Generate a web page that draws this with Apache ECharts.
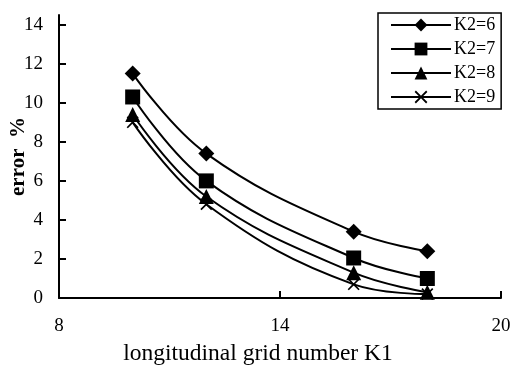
<!DOCTYPE html>
<html>
<head>
<meta charset="utf-8">
<script src="https://cdn.jsdelivr.net/npm/echarts@6/dist/echarts.min.js"></script>
<style>
  html, body {margin: 0; padding: 0; background: #fff;}
  #chart {width: 512px; height: 369px;}
</style>
</head>
<body>
<div id="chart"></div>
<script>
const k1 = [10, 12, 16, 18];
const k2Names = ['K2=6', 'K2=7', 'K2=8', 'K2=9'];
const k2_6 = [11.5, 7.4, 3.4, 2.4];
const k2_7 = [10.3, 6.0, 2.05, 1.0];
const k2_8 = [9.4, 5.2, 1.3, 0.3];
const k2_9 = [9.0, 4.8, 0.7, 0.2];

const font = 'Liberation Serif';
const cross = 'path://M0,1L1,0L5,4L9,0L10,1L6,5L10,9L9,10L5,6L1,10L0,9L4,5Z';
const symbols = ['diamond', 'rect', 'triangle', cross];
const sizes = [16, 15, 15, 12];

const pair = (vals) => vals.map((v, i) => [k1[i], v]);

const myChart = echarts.init(document.getElementById('chart'));
myChart.setOption({
  animation: false,
  textStyle: {fontFamily: font, color: '#000'},
  grid: {left: 59, right: 11, top: 15, bottom: 71, containLabel: false, outerBoundsMode: 'none'},
  legend: {
    orient: 'vertical',
    left: 378,
    top: 13,
    padding: [3, 6, 3, 12],
    borderColor: '#000',
    borderWidth: 1.5,
    itemWidth: 60,
    itemHeight: 16,
    itemGap: 6,
    textStyle: {fontFamily: font, fontSize: 18, color: '#000', padding: [0, 0, 0, -2]},
    data: k2Names
  },
  xAxis: {
    type: 'value',
    min: 8, max: 20, interval: 6,
    name: 'longitudinal grid number K1',
    nameLocation: 'middle',
    nameGap: 44,
    nameMoveOverlap: false,
    nameTextStyle: {fontFamily: font, fontSize: 23.5, color: '#000', padding: [0, 44, 0, 0]},
    splitLine: {show: false},
    axisLine: {lineStyle: {color: '#000', width: 2}},
    axisTick: {inside: true, length: 7, lineStyle: {color: '#000', width: 2}},
    axisLabel: {fontFamily: font, fontSize: 19, color: '#000', margin: 19}
  },
  yAxis: {
    type: 'value',
    min: 0, max: 14.5, interval: 2,
    name: 'error  %',
    nameLocation: 'middle',
    nameGap: 30,
    nameMoveOverlap: false,
    nameRotate: 90,
    nameTextStyle: {fontFamily: font, fontSize: 21, fontWeight: 'bold', color: '#000'},
    splitLine: {show: false},
    axisLine: {show: true, lineStyle: {color: '#000', width: 2}},
    axisTick: {show: true, inside: true, length: 7, lineStyle: {color: '#000', width: 2}},
    axisLabel: {fontFamily: font, fontSize: 19, color: '#000', margin: 16,
      showMaxLabel: false}
  },
  series: [k2_6, k2_7, k2_8, k2_9].map((vals, i) => ({
    name: k2Names[i],
    type: 'line',
    smooth: 0.4,
    data: pair(vals),
    symbol: symbols[i],
    symbolSize: sizes[i],
    itemStyle: {color: '#000'},
    lineStyle: {color: '#000', width: 2}
  }))
});
</script>
</body>
</html>
